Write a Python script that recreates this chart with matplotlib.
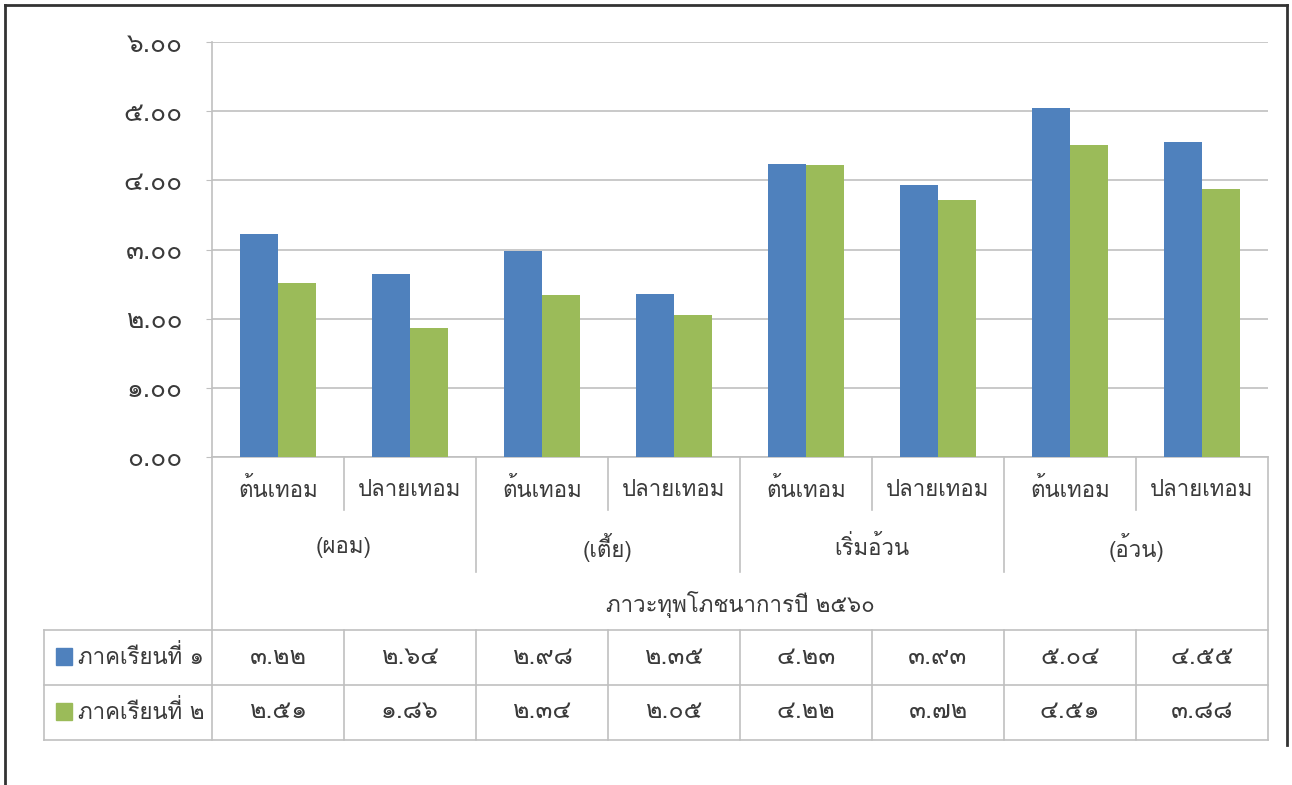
import matplotlib
matplotlib.use("Agg")
import matplotlib.pyplot as plt
import matplotlib.transforms as mtransforms
from matplotlib import font_manager, ft2font
import numpy as np

# data
sub_labels = ["ต้นเทอม", "ปลายเทอม"] * 4
group_labels = ["(ผอม)", "(เตี้ย)", "เริ่มอ้วน", "(อ้วน)"]
axis_title = "ภาวะทุพโภชนาการปี ๒๕๖๐"
series_names = ["ภาคเรียนที่ ๑", "ภาคเรียนที่ ๒"]
term1 = [3.22, 2.64, 2.98, 2.35, 4.23, 3.93, 5.04, 4.55]
term2 = [2.51, 1.86, 2.34, 2.05, 4.22, 3.72, 4.51, 3.88]
yticks = [0, 1, 2, 3, 4, 5, 6]

BLUE = "#4f81bd"
GREEN = "#9bbb59"
TXT = "#3a3a3a"
GRID = "#c0c0c0"

# find a font that has Thai glyphs
thai_family = None
for f in font_manager.fontManager.ttflist:
    try:
        cmap = ft2font.FT2Font(f.fname).get_charmap()
    except Exception:
        continue
    if 0x0E01 in cmap and 0x0E51 in cmap:
        thai_family = f.name
        break
if thai_family:
    plt.rcParams['font.family'] = [thai_family, 'DejaVu Sans']

THAI_DIGITS = str.maketrans("0123456789", "๐๑๒๓๔๕๖๗๘๙")


def thai(s):
    return s.translate(THAI_DIGITS)


W, H = 1292, 785
fig = plt.figure(figsize=(W / 100, H / 100), dpi=100)


def fy(ypix):
    return (H - ypix) / H


left, right, top, bottom = 212, 1268, 42, 457
ax = fig.add_axes([left / W, fy(bottom), (right - left) / W, (bottom - top) / H])

x = np.arange(len(term1))
bw = 0.29
ax.bar(x - bw / 2, term1, bw, color=BLUE, zorder=3)
ax.bar(x + bw / 2, term2, bw, color=GREEN, zorder=3)

ax.set_xlim(-0.5, 7.5)
ax.set_ylim(0, 6)
ax.set_yticks(yticks)
ax.set_yticklabels([thai(f"{v:.2f}") for v in yticks], fontsize=19, color=TXT)
ax.tick_params(axis='y', length=4, color=GRID, pad=17)
ax.set_xticks([])
ax.grid(axis='y', color=GRID, linewidth=1.2, zorder=0)
for s in ["top", "right"]:
    ax.spines[s].set_visible(False)
ax.spines["left"].set_color(GRID)
ax.spines["bottom"].set_color(GRID)
ax.spines["left"].set_linewidth(1.2)
ax.spines["bottom"].set_linewidth(1.2)

tr = mtransforms.blended_transform_factory(ax.transData, fig.transFigure)


def vline(xd, y0, y1):
    ax.plot([xd, xd], [fy(y0), fy(y1)], transform=tr, color=GRID, lw=1.2, clip_on=False)


def hline(x0, x1, yp):
    ax.plot([x0, x1], [fy(yp), fy(yp)], transform=tr, color=GRID, lw=1.2, clip_on=False)


# category axis boxes
vline(-0.5, bottom, 740)
vline(7.5, bottom, 740)
for xs in [0.5, 2.5, 4.5, 6.5]:
    vline(xs, bottom, 510)
for xs in [1.5, 3.5, 5.5]:
    vline(xs, bottom, 572)

for i, lab in enumerate(sub_labels):
    ax.text(i, fy(490), lab, transform=tr, ha='center', va='center', fontsize=16, color=TXT)
for g, lab in enumerate(group_labels):
    ax.text(2 * g + 0.5, fy(548), lab, transform=tr, ha='center', va='center', fontsize=16, color=TXT)
ax.text(3.5, fy(605), axis_title, transform=tr, ha='center', va='center', fontsize=16, color=TXT)

# data table
tleft = -0.5 + (44 - left) / 132
for yp in [630, 685, 740]:
    hline(tleft, 7.5, yp)
vline(tleft, 630, 740)
for xs in np.arange(0.5, 7.5, 1):
    vline(xs, 630, 740)

rows = [(series_names[0], term1, BLUE, 657), (series_names[1], term2, GREEN, 712)]
for name, vals, col, yp in rows:
    sq = tleft + (56 - 44) / 132
    ax.add_patch(plt.Rectangle((sq, fy(yp) - 8 / H), 16 / 132, 17 / H, transform=tr,
                               color=col, clip_on=False))
    ax.text(tleft + (78 - 44) / 132, fy(yp), name, transform=tr, ha='left', va='center',
            fontsize=16, color=TXT)
    for i, v in enumerate(vals):
        ax.text(i, fy(yp), thai(f"{v:.2f}"), transform=tr, ha='center', va='center',
                fontsize=18, color=TXT)

# outer frame
frame = dict(color="#333333", lw=2, transform=fig.transFigure)
fig.add_artist(plt.Line2D([5 / W, 5 / W], [fy(5), 0], **frame))
fig.add_artist(plt.Line2D([5 / W, 1287 / W], [fy(5), fy(5)], **frame))
fig.add_artist(plt.Line2D([1287 / W, 1287 / W], [fy(5), fy(745)], **frame))

fig.savefig("out.png", dpi=100)
